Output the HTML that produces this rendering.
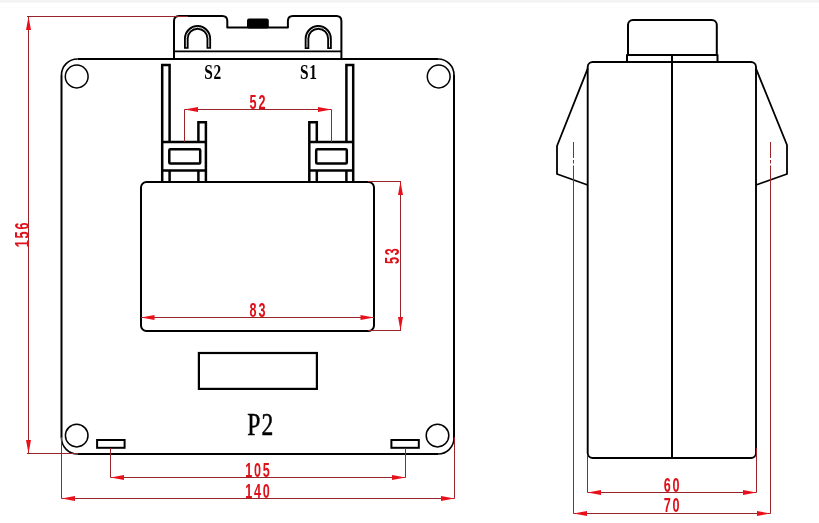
<!DOCTYPE html>
<html><head><meta charset="utf-8">
<style>
html,body{margin:0;padding:0;background:#fff;width:819px;height:523px;overflow:hidden}
svg{display:block;will-change:transform}
.k{fill:none;stroke:#000;stroke-linejoin:round}
.r{fill:none;stroke:#962428;stroke-width:1}
.a{fill:#e8101a;stroke:none}
.d{font-family:"Liberation Sans",sans-serif;fill:#e0101a;font-size:21px;font-weight:bold;letter-spacing:3px}
.s{font-family:"Liberation Serif",serif;fill:#000;font-weight:bold;font-size:20px;letter-spacing:1px}
.p{font-family:"Liberation Serif",serif;fill:#000;font-size:31px;letter-spacing:1.5px;stroke:#000;stroke-width:0.5px}
</style></head>
<body>
<svg width="819" height="523" viewBox="0 0 819 523">
<rect x="0" y="0" width="819" height="2" fill="#f3f3f3"/>
<rect x="0" y="2" width="819" height="1" fill="#f8f8f8"/>
<rect x="0" y="7" width="819" height="1" fill="#fbfbfb"/>

<!-- ============ LEFT VIEW ============ -->
<!-- terminal block -->
<path class="k" stroke-width="2" d="M174 59 V21 Q174 16 179 16 H222.3 Q227.3 16 227.3 21 V27.6 H287.9 V21 Q287.9 16 292.9 16 H336.4 Q341.4 16 341.4 21 V59"/>
<line class="k" stroke-width="1.8" x1="174" y1="51.4" x2="341.4" y2="51.4"/>
<rect x="247" y="18.6" width="21.8" height="9.8" rx="2" fill="#000"/>
<!-- U shapes -->
<path class="k" stroke-width="4.6" stroke-linejoin="miter" d="M186.3 48.8 V38.6 A11.25 11.25 0 0 1 208.8 38.6 V48.8"/>
<path fill="none" stroke="#fff" stroke-width="0.9" d="M186.3 47.2 V38.6 A11.25 11.25 0 0 1 208.8 38.6 V47.2"/>
<path class="k" stroke-width="4.6" stroke-linejoin="miter" d="M307 49 V38.6 A11.25 11.25 0 0 1 329.5 38.6 V49"/>
<path fill="none" stroke="#fff" stroke-width="0.9" d="M307 47.4 V38.6 A11.25 11.25 0 0 1 329.5 38.6 V47.4"/>

<!-- main body -->
<path class="k" stroke-width="2" style="stroke-linecap:butt" d="M77.5 59 H438 M454 75 V438 M438 454 H77.5 M61.5 438 V75"/>
<path class="k" stroke-width="1.6" d="M438 59 A16 16 0 0 1 454 75 M454 438 A16 16 0 0 1 438 454 M77.5 454 A16 16 0 0 1 61.5 438 M61.5 75 A16 16 0 0 1 77.5 59"/>
<circle class="k" stroke-width="1.5" cx="76.7" cy="76.5" r="11.4"/>
<circle class="k" stroke-width="1.5" cx="438.7" cy="76.5" r="11.4"/>
<circle class="k" stroke-width="1.5" cx="76.7" cy="435.6" r="11.3"/>
<circle class="k" stroke-width="1.5" cx="437.5" cy="435.6" r="11.3"/>
<rect class="k" style="stroke-linejoin:miter" stroke-width="2" x="97.1" y="440" width="27.5" height="7.8"/>
<rect class="k" style="stroke-linejoin:miter" stroke-width="2" x="391.4" y="440" width="27.4" height="7.8"/>
<rect class="k" style="stroke-linejoin:miter" stroke-width="2.2" x="198.9" y="353" width="118" height="35.9"/>
<text class="p" x="261" y="435.2" text-anchor="middle" transform="translate(260 0) scale(0.76 1) translate(-260 0)">P2</text>

<!-- core rect -->
<path class="k" stroke-width="2" d="M146.5 182 H368.5 A5.5 5.5 0 0 1 374 187.5 V325.5 A5.5 5.5 0 0 1 368.5 331 H146.5 A5.5 5.5 0 0 1 141 325.5 V187.5 A5.5 5.5 0 0 1 146.5 182 Z"/>

<!-- left pin assembly -->
<g class="k" style="stroke-linejoin:miter" stroke-width="2.5">
<path d="M162.2 182 V65.1 H169.6 V142"/>
<path d="M169.6 170.4 V182"/>
<path d="M198.4 142 V122.2 H205.9 V182"/>
<path d="M198.4 170.4 V182"/>
<line x1="162.2" y1="142" x2="205.9" y2="142"/>
<line x1="162.2" y1="170.4" x2="205.9" y2="170.4"/>
<rect x="169.3" y="149.2" width="30.9" height="14.4" rx="1"/>
</g>
<!-- right pin assembly -->
<g class="k" style="stroke-linejoin:miter" stroke-width="2.5">
<path d="M353.2 182 V65.1 H346.4 V142"/>
<path d="M346.4 170.4 V182"/>
<path d="M316.8 142 V122.2 H309.3 V182"/>
<path d="M316.8 170.4 V182"/>
<line x1="309.3" y1="142" x2="353.2" y2="142"/>
<line x1="309.3" y1="170.4" x2="353.2" y2="170.4"/>
<rect x="316.2" y="149.2" width="30.6" height="14.4" rx="1"/>
</g>
<text class="s" x="213.2" y="78.6" text-anchor="middle" transform="translate(213 0) scale(0.77 1) translate(-213 0)">S2</text>
<text class="s" x="308.9" y="78.6" text-anchor="middle" transform="translate(308.7 0) scale(0.77 1) translate(-308.7 0)">S1</text>

<!-- ============ RIGHT VIEW ============ -->
<path class="k" stroke-width="2" d="M628 55 V25 A5 5 0 0 1 633 20 H711.8 A5 5 0 0 1 716.8 25 V55"/>
<path class="k" stroke-width="2" d="M627 61.5 V55 H717.5 V61.5"/>
<path class="k" stroke-width="1.9" d="M592.7 62 H751 A5 5 0 0 1 756 67 V453 A5 5 0 0 1 751 458 H592.7 A5 5 0 0 1 587.7 453 V67 A5 5 0 0 1 592.7 62 Z"/>
<line class="k" stroke-width="2" x1="672" y1="55" x2="672" y2="458"/>
<path class="k" stroke-width="1.8" d="M587.7 68.7 L557 146 V174 L587.7 185"/>
<path class="k" stroke-width="1.8" d="M756 68.7 L787 145 V174 L756 185"/>
<!-- ===== dimensions left ===== -->
<!-- 156 -->
<path class="r" d="M27 16.5 H188 M28.5 16.5 V453.5 M27 453.5 H77"/>
<path class="a" d="M28.5 16.5 L31 30 L26 30 Z M28.5 453.5 L31 440 L26 440 Z"/>
<text class="d" transform="translate(28.8 234) rotate(-90) scale(0.6 1)" text-anchor="middle" y="0">156</text>
<!-- 52 -->
<path class="r" d="M184.5 109.5 H331.5 M184.5 109.5 V142 M331.5 109.5 V142"/>
<path class="a" d="M184.5 109.5 L198 107 L198 112 Z M331.5 109.5 L318 107 L318 112 Z"/>
<text class="d" x="259.0" y="109.2" text-anchor="middle" transform="translate(257.5 0) scale(0.6 1) translate(-257.5 0)">52</text>
<!-- 53 -->
<path class="r" d="M368 181.5 H401 M400.5 181.5 V330.5 M368 330.5 H401"/>
<path class="a" d="M400.5 181.5 L403 195 L398 195 Z M400.5 330.5 L403 317 L398 317 Z"/>
<text class="d" transform="translate(399.3 255.3) rotate(-90) scale(0.6 1)" text-anchor="middle" y="0">53</text>
<!-- 83 -->
<path class="r" d="M141 317.5 H374"/>
<path class="a" d="M141 317.5 L154.5 315 L154.5 320 Z M374 317.5 L360.5 315 L360.5 320 Z"/>
<text class="d" x="259.0" y="317.2" text-anchor="middle" transform="translate(257.5 0) scale(0.6 1) translate(-257.5 0)">83</text>
<!-- 105 -->
<path class="r" d="M110.5 448 V477.5 M405.5 448 V477.5 M110.5 477.5 H405.5"/>
<path class="a" d="M110.5 477.5 L124 475 L124 480 Z M405.5 477.5 L392 475 L392 480 Z"/>
<text class="d" x="259.0" y="476.7" text-anchor="middle" transform="translate(257.5 0) scale(0.6 1) translate(-257.5 0)">105</text>
<!-- 140 -->
<path class="r" d="M61.5 437 V498.5 M454.5 437 V498.5 M61.5 498.5 H454.5"/>
<path class="a" d="M61.5 498.5 L75 496 L75 501 Z M454.5 498.5 L441 496 L441 501 Z"/>
<text class="d" x="259.0" y="497.8" text-anchor="middle" transform="translate(257.5 0) scale(0.6 1) translate(-257.5 0)">140</text>

<!-- centerlines -->
<path class="r" d="M573.5 142 V158 M573.5 160 V163.5 M573.5 165.5 V513.5 M770.5 142 V158 M770.5 160 V163.5 M770.5 165.5 V513.5"/>
<path class="r" d="M587.5 455 V492.5 M756.5 448 V492.5 M587.5 492.5 H756.5 M573.5 513.5 H770.5"/>
<path class="a" d="M587.5 492.5 L601 490 L601 495 Z M756.5 492.5 L743 490 L743 495 Z M573.5 513.5 L587 511 L587 516 Z M770.5 513.5 L757 511 L757 516 Z"/>
<text class="d" x="673.1" y="491.9" text-anchor="middle" transform="translate(671.6 0) scale(0.6 1) translate(-671.6 0)">60</text>
<text class="d" x="673.1" y="512.5" text-anchor="middle" transform="translate(671.6 0) scale(0.6 1) translate(-671.6 0)">70</text>
</svg>
</body></html>
